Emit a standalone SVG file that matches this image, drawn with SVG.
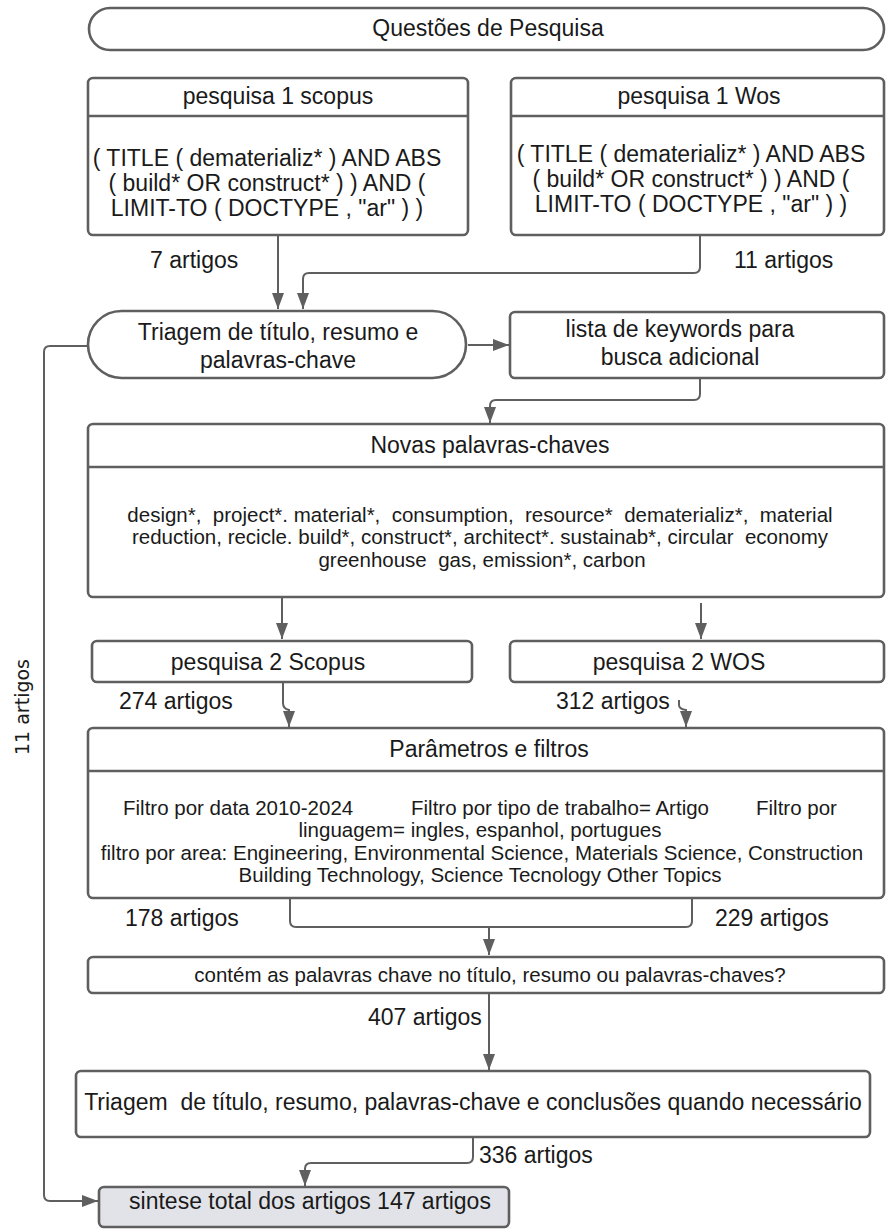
<svg xmlns="http://www.w3.org/2000/svg" width="886" height="1229" viewBox="0 0 886 1229">
<style>
.box{fill:#ffffff;stroke:#5f5f5f;stroke-width:2.6}
.grey{fill:#e1e3e8;stroke:#5f5f5f;stroke-width:2.6}
.sep{stroke:#5f5f5f;stroke-width:2.6}
.t{font-family:"Liberation Sans",Arial,sans-serif;font-size:23px;fill:#1a1a1a;text-anchor:middle}
.s{font-family:"Liberation Sans",Arial,sans-serif;font-size:20.5px;fill:#1a1a1a;text-anchor:middle;white-space:pre}
.l{font-family:"Liberation Sans",Arial,sans-serif;font-size:23px;fill:#1a1a1a;white-space:pre}
.v{font-family:"DejaVu Sans",Verdana,sans-serif;font-size:19px;fill:#1a1a1a;text-anchor:middle}
.c{fill:none;stroke:#5f5f5f;stroke-width:2}
</style>
<defs>
<marker id="ah" markerUnits="userSpaceOnUse" markerWidth="16" markerHeight="12" refX="16" refY="6" orient="auto">
<path d="M0,0 L16,6 L0,12 z" fill="#5f5f5f"/>
</marker>
</defs>

<g id="connectors">
<path class="c" d="M278 235 V309" marker-end="url(#ah)"/>
<path class="c" d="M700 235 V267 Q700 273 694 273 H309 Q303 273 303 279 V309" marker-end="url(#ah)"/>
<path class="c" d="M468 345 H509" marker-end="url(#ah)"/>
<path class="c" d="M700 378 V394 Q700 400 694 400 H496 Q490 400 490 406 V423" marker-end="url(#ah)"/>
<path class="c" d="M282 597 V639" marker-end="url(#ah)"/>
<path class="c" d="M701 603 V639" marker-end="url(#ah)"/>
<path class="c" d="M283 682 V703 Q283 709 289 710 V727" marker-end="url(#ah)"/>
<path class="c" d="M679 700 V705 Q679 709 686 710 V727" marker-end="url(#ah)"/>
<path class="c" d="M290 898 V921 Q290 927 296 927 H686 Q692 927 692 921 V898"/>
<path class="c" d="M489 927 V955" marker-end="url(#ah)"/>
<path class="c" d="M489 993 V1070" marker-end="url(#ah)"/>
<path class="c" d="M473 1137 V1157 Q473 1163 467 1163 H311 Q305 1163 305 1169 V1186" marker-end="url(#ah)"/>
<path class="c" d="M88 346 H50 Q44 346 44 352 V1195 Q44 1201 50 1201 H98" marker-end="url(#ah)"/>
<text class="l" x="150" y="268">7 artigos</text>
<text class="l" x="734" y="268">11 artigos</text>
<text class="l" x="119" y="709">274 artigos</text>
<text class="l" x="556" y="709">312 artigos</text>
<text class="l" x="125" y="926">178 artigos</text>
<text class="l" x="715" y="926">229 artigos</text>
<text class="l" x="368" y="1025">407 artigos</text>
<text class="l" x="479" y="1163">336 artigos</text>
<text class="v" transform="translate(29,707) rotate(-90)">11 artigos</text>
</g>

<g id="questoes">
<rect class="box" x="89" y="8" width="795" height="42" rx="21"/>
<text class="t" x="488" y="36">Questões de Pesquisa</text>
</g>

<g id="pesquisa1-scopus">
<rect class="box" x="88" y="78" width="380" height="157" rx="5"/>
<line class="sep" x1="88" y1="116" x2="468" y2="116"/>
<text class="t" x="278" y="104">pesquisa 1 scopus</text>
<text class="t" x="267" y="166">( TITLE ( dematerializ* ) AND ABS</text>
<text class="t" x="267" y="191">( build* OR construct* ) ) AND (</text>
<text class="t" x="267" y="216">LIMIT-TO ( DOCTYPE , "ar" ) )</text>
</g>

<g id="pesquisa1-wos">
<rect class="box" x="511" y="78" width="373" height="157" rx="5"/>
<line class="sep" x1="511" y1="116" x2="884" y2="116"/>
<text class="t" x="699" y="104">pesquisa 1 Wos</text>
<text class="t" x="691" y="162">( TITLE ( dematerializ* ) AND ABS</text>
<text class="t" x="691" y="187">( build* OR construct* ) ) AND (</text>
<text class="t" x="691" y="212">LIMIT-TO ( DOCTYPE , "ar" ) )</text>
</g>

<g id="triagem1">
<rect class="box" x="88" y="311" width="378" height="67" rx="33.5"/>
<text class="t" x="278" y="340">Triagem de título, resumo e</text>
<text class="t" x="278" y="368">palavras-chave</text>
</g>

<g id="lista">
<rect class="box" x="510" y="312" width="374" height="66" rx="5"/>
<text class="t" x="680" y="337">lista de keywords para</text>
<text class="t" x="680" y="365">busca adicional</text>
</g>

<g id="novas">
<rect class="box" x="88" y="424" width="796" height="173" rx="5"/>
<line class="sep" x1="88" y1="467" x2="884" y2="467"/>
<text class="t" x="490" y="453">Novas palavras-chaves</text>
<text class="s" x="480" y="522">design*,  project*. material*,  consumption,  resource*  dematerializ*,  material</text>
<text class="s" x="480" y="544">reduction, recicle. build*, construct*, architect*. sustainab*, circular  economy</text>
<text class="s" x="482" y="567">greenhouse  gas, emission*, carbon</text>
</g>

<g id="pesquisa2-scopus">
<rect class="box" x="92" y="641" width="380" height="41" rx="5"/>
<text class="t" x="268" y="670">pesquisa 2 Scopus</text>
</g>

<g id="pesquisa2-wos">
<rect class="box" x="510" y="641" width="374" height="41" rx="5"/>
<text class="t" x="679" y="670">pesquisa 2 WOS</text>
</g>

<g id="parametros">
<rect class="box" x="88" y="728" width="796" height="170" rx="5"/>
<line class="sep" x1="88" y1="771" x2="884" y2="771"/>
<text class="t" x="489" y="757">Parâmetros e filtros</text>
<text class="s" style="text-anchor:start" y="815"><tspan x="123">Filtro por data 2010-2024</tspan><tspan x="411">Filtro por tipo de trabalho= Artigo</tspan><tspan x="756">Filtro por</tspan></text>
<text class="s" x="480" y="837">linguagem= ingles, espanhol, portugues</text>
<text class="s" x="482" y="860">filtro por area: Engineering, Environmental Science, Materials Science, Construction</text>
<text class="s" x="480" y="882">Building Technology, Science Tecnology Other Topics</text>
</g>

<g id="contem">
<rect class="box" x="88" y="957" width="796" height="36" rx="5"/>
<text class="s" x="490" y="982">contém as palavras chave no título, resumo ou palavras-chaves?</text>
</g>

<g id="triagem2">
<rect class="box" x="76" y="1071" width="794" height="66" rx="5"/>
<text class="t" x="473" y="1110" style="white-space:pre">Triagem  de título, resumo, palavras-chave e conclusões quando necessário</text>
</g>

<g id="sintese">
<rect class="grey" x="99" y="1187" width="410" height="40" rx="5"/>
<text class="t" x="310" y="1209">sintese total dos artigos 147 artigos</text>
</g>
</svg>
